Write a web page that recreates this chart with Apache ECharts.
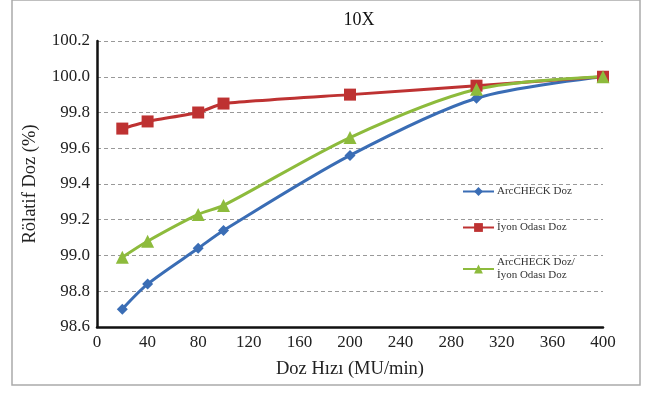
<!DOCTYPE html>
<html><head><meta charset="utf-8">
<script src="https://cdn.jsdelivr.net/npm/echarts@6/dist/echarts.min.js"></script>
<style>html,body{margin:0;padding:0;background:#fff}#c{width:650px;height:393px}</style>
</head><body><div id="c"></div>
<script>
const doseRates = [20, 40, 80, 100, 200, 300, 400];
const arcCheck = [98.70, 98.84, 99.04, 99.14, 99.56, 99.88, 100.0];
const ionChamber = [99.71, 99.75, 99.80, 99.85, 99.90, 99.95, 100.0];
const ratio = [98.99, 99.08, 99.23, 99.28, 99.66, 99.93, 100.0];
const seriesNames = ['ArcCHECK Doz', 'İyon Odası Doz', 'ArcCHECK Doz/\nİyon Odası Doz'];

const pair = (ys) => doseRates.map((x, i) => [x, ys[i]]);
const font = 'Liberation Serif, Times New Roman, serif';
const chart = echarts.init(document.getElementById('c'));
const legendBase = {
  orient: 'vertical', left: 457, itemWidth: 31, itemHeight: 11, itemGap: 4,
  textStyle: {fontFamily: font, fontSize: 11, color: '#333', lineHeight: 13, padding: [0, 0, 0, -2]},
  selectedMode: false
};
chart.setOption({
  animation: false,
  graphic: [{type: 'rect', shape: {x: 12, y: 0, width: 628, height: 385},
    style: {fill: 'none', stroke: '#aaa', lineWidth: 1.5}}],
  title: {text: '10X', left: 354, top: 6, textAlign: 'center',
    textStyle: {fontFamily: font, fontSize: 18, fontWeight: 'normal', color: '#111'}},
  grid: {left: 97, right: 47, top: 41, bottom: 66},
  legend: [
    Object.assign({}, legendBase, {top: 180, data: [seriesNames[0]]}),
    Object.assign({}, legendBase, {top: 216, data: [seriesNames[1]]}),
    Object.assign({}, legendBase, {top: 251, data: [seriesNames[2]]})
  ],
  xAxis: {
    type: 'value', min: 0, max: 400, interval: 40,
    name: 'Doz Hızı (MU/min)', nameLocation: 'middle', nameGap: 33,
    nameTextStyle: {fontFamily: font, fontSize: 18.5, color: '#222'},
    axisLine: {show: true, lineStyle: {color: '#111', width: 2.5}},
    axisTick: {show: false},
    splitLine: {show: false},
    axisLabel: {fontFamily: font, fontSize: 17, color: '#222', margin: 7}
  },
  yAxis: {
    type: 'value', min: 98.6, max: 100.2, interval: 0.2,
    name: 'Rölatif Doz (%)', nameLocation: 'middle', nameGap: 57,
    nameTextStyle: {fontFamily: font, fontSize: 18.5, color: '#222'},
    axisLine: {show: true, lineStyle: {color: '#111', width: 2.5}},
    axisTick: {show: false},
    splitLine: {show: true, lineStyle: {color: '#999', type: [4, 3], width: 1}},
    axisLabel: {fontFamily: font, fontSize: 17, color: '#222', margin: 7,
      formatter: v => v.toFixed(1)}
  },
  series: [
    {name: seriesNames[0], type: 'line', data: pair(arcCheck), smooth: 0.3,
      symbol: 'diamond', symbolSize: 11,
      lineStyle: {color: '#3A6DB5', width: 3}, itemStyle: {color: '#3A6DB5'}},
    {name: seriesNames[1], type: 'line', data: pair(ionChamber), smooth: 0.15,
      symbol: 'rect', symbolSize: 12,
      lineStyle: {color: '#BE3232', width: 3}, itemStyle: {color: '#BE3232'}},
    {name: seriesNames[2], type: 'line', data: pair(ratio), smooth: 0.3,
      symbol: 'triangle', symbolSize: 13,
      lineStyle: {color: '#8DBB3C', width: 3}, itemStyle: {color: '#8DBB3C'}}
  ]
});
</script></body></html>
